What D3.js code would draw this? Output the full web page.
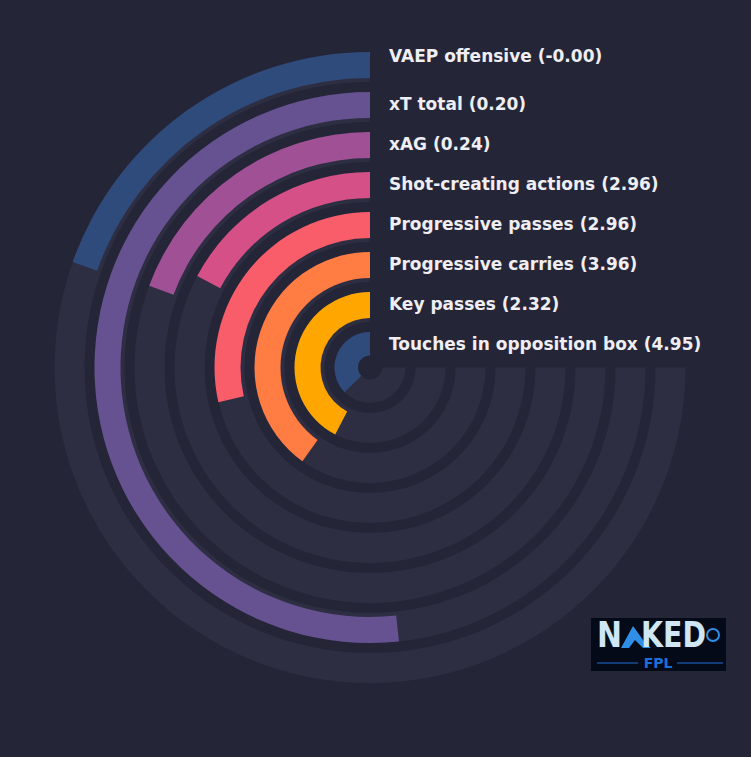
<!DOCTYPE html>
<html>
<head>
  <meta charset="UTF-8">
  <style>
    html, body { margin: 0; padding: 0; background: #252538; }
    svg { display: block; }
  </style>
</head>
<body>
<svg></svg>
<script src="https://d3js.org/d3.v7.min.js"></script>

<script>

let width = 751, height = 757;

// metric names, outer ring first
let categories = ["VAEP offensive", "xT total", "xAG", "Shot-creating actions",
    "Progressive passes", "Progressive carries", "Key passes", "Touches in opposition box"];
// raw per-90 values shown in the labels
let rawValues = [-0.001, 0.20, 0.24, 2.96, 2.96, 3.96, 2.32, 4.95];
// percentile (0-100) that sets the bar length
let percentiles = [26.1, 68.9, 25.8, 23.0, 38.1, 53.4, 56.5, 49.7];
let colors = ["#2f4b7c", "#665191", "#a05195", "#d45087", "#f95d6a", "#ff7c43", "#ffa600", "#2f4b7c"];

let cx = 370, cy = 367.5;

let svg = d3.select("svg")
    .attr("width", width)
    .attr("height", height)
    .attr("viewBox", "0 0 " + width + " " + height)

svg.append("rect")
    .attr("width", width)
    .attr("height", height)
    .attr("fill", "#252538")

// angle: counter-clockwise from 12 o'clock, max 3/4 of a turn
let angle = d3.scaleLinear()
    .domain([0, 100])
    .range([0, -1.5 * Math.PI]);

// outer radius of each ring
let radius = d3.scalePoint()
    .domain(categories)
    .range([315.5, 35.5]);

let trackWidth = 30, barWidth = 26;

let g = svg.append("g")
    .attr("transform", "translate(" + cx + "," + cy + ")")

let arc = d3.arc();

// background tracks
g.append("g")
    .selectAll("path")
    .data(categories)
    .enter()
    .append("path")
    .attr("d", d => arc({
        innerRadius: Math.max(radius(d) - trackWidth, 0),
        outerRadius: radius(d),
        startAngle: 0,
        endAngle: angle(100)
    }))
    .attr("fill", "#2e2e43")

// bars
g.append("g")
    .selectAll("path")
    .data(categories)
    .enter()
    .append("path")
    .attr("d", (d, i) => arc({
        innerRadius: Math.max(radius(d) - barWidth, 0),
        outerRadius: radius(d),
        startAngle: 0,
        endAngle: angle(percentiles[i])
    }))
    .attr("fill", (d, i) => colors[i])

// centre hole
g.append("circle")
    .attr("r", 12)
    .attr("fill", "#252538")

// labels
g.append("g")
    .selectAll("text")
    .data(categories)
    .enter()
    .append("text")
    .attr("x", 19)
    .attr("y", (d, i) => -(radius(d) - barWidth / 2) + (i === 0 ? -8 : 0))
    .attr("dominant-baseline", "middle")
    .style("font-family", "DejaVu Sans")
    .style("font-weight", "bold")
    .style("font-size", "17px")
    .style("fill", "#eeeef3")
    .text((d, i) => d + " (" + rawValues[i].toFixed(2) + ")")

// logo badge
let logo = svg.append("g")
    .attr("transform", "translate(591,618)")

logo.append("rect")
    .attr("width", 135)
    .attr("height", 53)
    .attr("fill", "#050a19")

logo.append("text")
    .attr("x", 6)
    .attr("y", 29)
    .attr("textLength", 25)
    .attr("lengthAdjust", "spacingAndGlyphs")
    .style("font-family", "DejaVu Sans")
    .style("font-weight", "bold")
    .style("font-size", "35px")
    .style("fill", "#cfe6f4")
    .text("N")

logo.append("path")
    .attr("d", "M30,30 L42,8 L55,26 L60,30 L52,30 L44,22 L38,30 Z")
    .attr("fill", "#2f8fe6")

logo.append("text")
    .attr("x", 50)
    .attr("y", 29)
    .attr("textLength", 65)
    .attr("lengthAdjust", "spacingAndGlyphs")
    .style("font-family", "DejaVu Sans")
    .style("font-weight", "bold")
    .style("font-size", "35px")
    .style("fill", "#cfe6f4")
    .text("KED")

logo.append("circle")
    .attr("cx", 122)
    .attr("cy", 17)
    .attr("r", 6)
    .attr("fill", "none")
    .attr("stroke", "#2f8fe6")
    .attr("stroke-width", 2)

logo.append("text")
    .attr("x", 67)
    .attr("y", 50)
    .attr("text-anchor", "middle")
    .style("font-family", "DejaVu Sans")
    .style("font-weight", "bold")
    .style("font-size", "14px")
    .style("fill", "#1d6fd6")
    .text("FPL")

logo.append("line")
    .attr("x1", 6).attr("x2", 47)
    .attr("y1", 45).attr("y2", 45)
    .attr("stroke", "#1d6fd6")
logo.append("line")
    .attr("x1", 86).attr("x2", 132)
    .attr("y1", 45).attr("y2", 45)
    .attr("stroke", "#1d6fd6")

</script>

</body>
</html>
